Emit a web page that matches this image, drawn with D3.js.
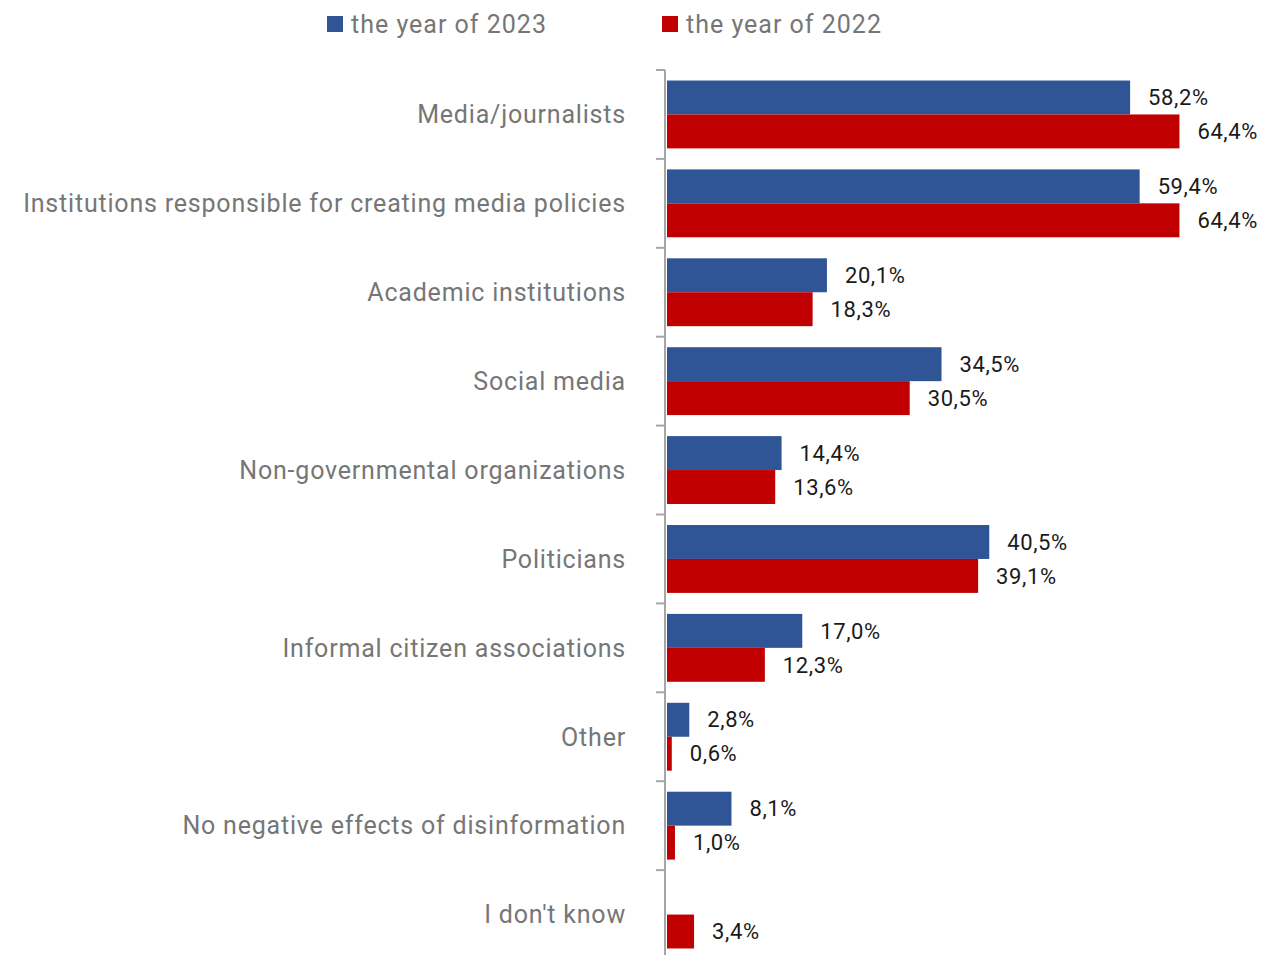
<!DOCTYPE html>
<html>
<head>
<meta charset="utf-8">
<script src="https://cdn.jsdelivr.net/npm/d3@7"></script>
<style>
  html, body { margin: 0; padding: 0; background: #fff; }
  svg { display: block; font-family: Roboto, "Noto Sans", sans-serif; }
</style>
</head>
<body>
<svg id="chart" width="1276" height="955"></svg>
<script>
// Who should act against disinformation — share of respondents, by year
const categories = [
  "Media/journalists",
  "Institutions responsible for creating media policies",
  "Academic institutions",
  "Social media",
  "Non-governmental organizations",
  "Politicians",
  "Informal citizen associations",
  "Other",
  "No negative effects of disinformation",
  "I don't know"
];
const seriesNames = ["the year of 2023", "the year of 2022"];
const values2023 = [58.2, 59.4, 20.1, 34.5, 14.4, 40.5, 17.0, 2.8, 8.1, null];
const values2022 = [64.4, 64.4, 18.3, 30.5, 13.6, 39.1, 12.3, 0.6, 1.0, 3.4];
const seriesColors = ["#2F5597", "#C00000"];

const svg = d3.select("#chart");

const x = d3.scaleLinear().domain([0, 70]).range([667, 1224]);
const y = d3.scaleBand().domain(categories).range([70, 959]).padding(0);
const inner = d3.scaleBand().domain([0, 1]).range([0, y.bandwidth()])
  .paddingInner(0).paddingOuter(0.31);

const fmt = v => d3.format(".1f")(v).replace(".", ",") + "%";

const rows = categories.map((c, i) => ({
  cat: c,
  vals: [values2023[i], values2022[i]]
}));

// Bars
const groups = svg.append("g").selectAll("g")
  .data(rows).join("g")
  .attr("transform", d => `translate(0,${y(d.cat)})`);

const cells = groups.selectAll("g.cell")
  .data(d => d.vals.map((v, s) => ({ v, s })).filter(e => e.v != null))
  .join("g").attr("class", "cell");

cells.append("rect")
  .attr("x", x(0))
  .attr("y", d => inner(d.s))
  .attr("width", d => x(d.v) - x(0))
  .attr("height", inner.bandwidth())
  .attr("fill", d => seriesColors[d.s]);

cells.append("text")
  .attr("x", d => x(d.v) + 18)
  .attr("y", d => inner(d.s) + inner.bandwidth() / 2)
  .attr("dy", "0.35em")
  .attr("font-size", 22)
  .attr("letter-spacing", "0.6")
  .attr("fill", "#1a1a1a")
  .text(d => fmt(d.v));

// Category axis: line with ticks at band boundaries
const axis = svg.append("g").attr("stroke", "#a6a6a6").attr("stroke-width", 2);
axis.append("line")
  .attr("x1", 665).attr("x2", 665)
  .attr("y1", y.range()[0]).attr("y2", y.range()[1]);
const bounds = categories.map(c => y(c)).concat([y.range()[1]]);
axis.selectAll("line.tick").data(bounds).join("line")
  .attr("class", "tick")
  .attr("x1", 656).attr("x2", 665)
  .attr("y1", d => d).attr("y2", d => d);

svg.append("g").selectAll("text")
  .data(categories).join("text")
  .attr("x", 626)
  .attr("y", d => y(d) + y.bandwidth() / 2)
  .attr("dy", "0.35em")
  .attr("text-anchor", "end")
  .attr("font-size", 25)
  .attr("letter-spacing", "0.8")
  .attr("fill", "#767676")
  .text(d => d);

// Legend
const legendX = [327, 662];
const legend = svg.append("g").selectAll("g")
  .data(seriesNames).join("g")
  .attr("transform", (d, i) => `translate(${legendX[i]},16)`);
legend.append("rect")
  .attr("width", 16).attr("height", 16)
  .attr("fill", (d, i) => seriesColors[i]);
legend.append("text")
  .attr("x", 24).attr("y", 8).attr("dy", "0.35em")
  .attr("font-size", 25)
  .attr("letter-spacing", "1.0")
  .attr("fill", "#767676")
  .text(d => d);
</script>
</body>
</html>
